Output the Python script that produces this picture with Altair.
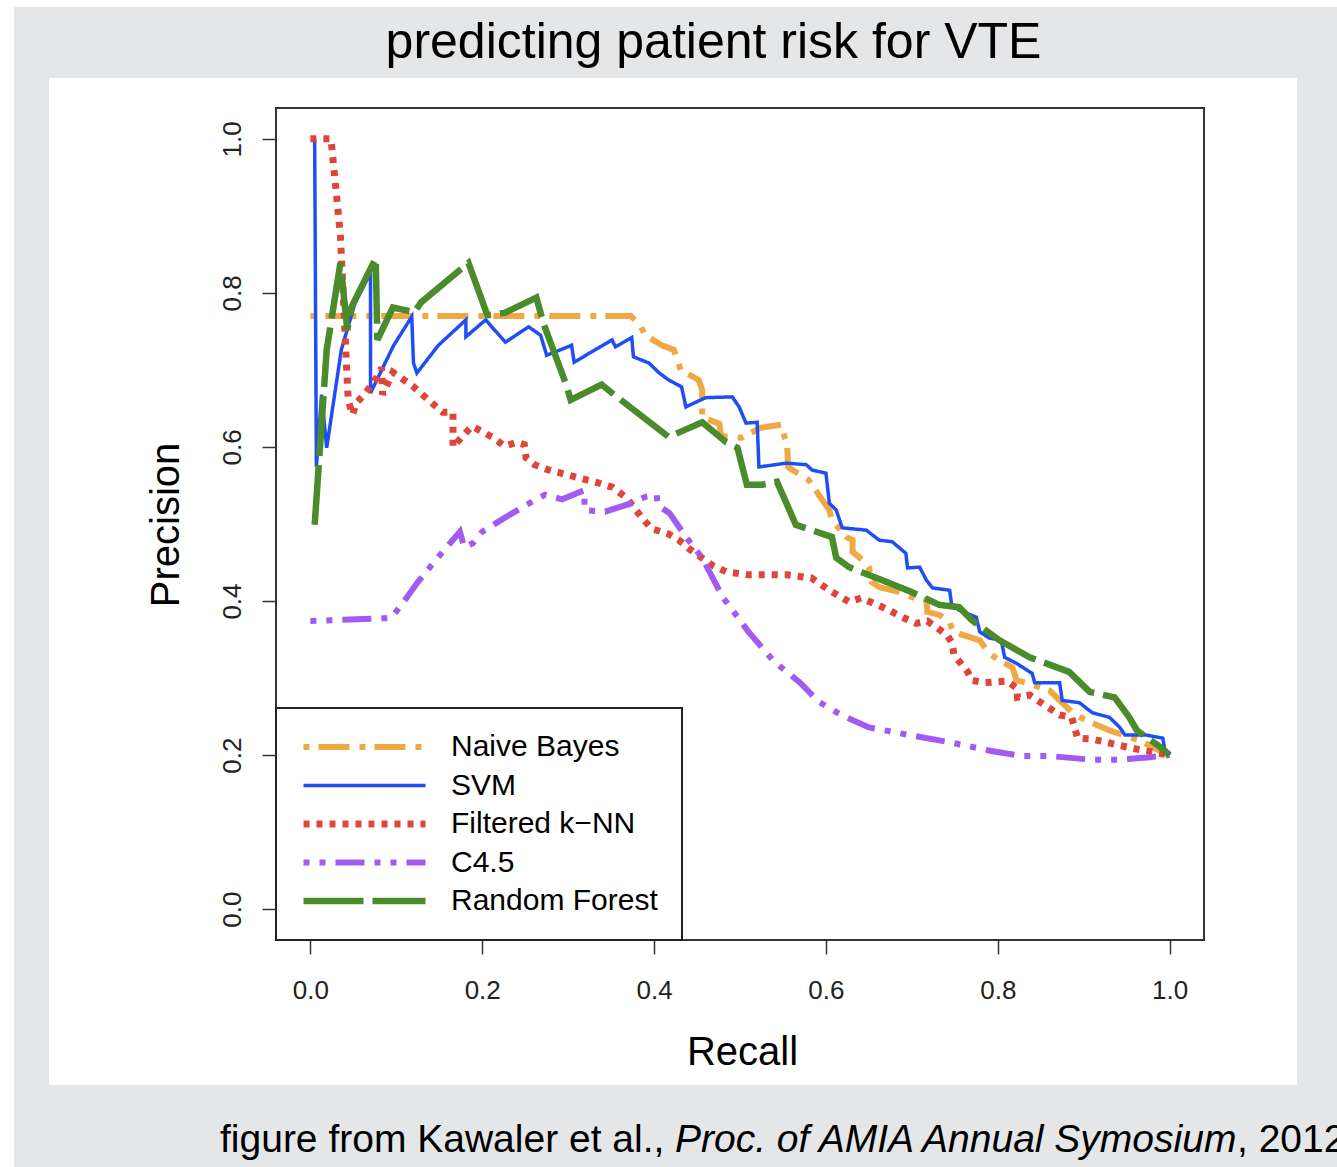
import altair as alt
import pandas as pd

# Precision-recall curves for five classifiers (recall, precision)
models = ["Naive Bayes", "SVM", "Filtered k\u2212NN", "C4.5", "Random Forest"]
colors = ["#f0a843", "#1f4ef5", "#e0453a", "#a35af2", "#4a8b2c"]
dashes = [[6, 9, 31, 10], [1, 0], [6, 7], [6, 10, 6, 10, 29, 10], [60, 9]]
widths = [6, 3.5, 7, 6, 6.5]

nb_points = [
    (0.0, 0.770), (0.373, 0.770), (0.382, 0.761), (0.390, 0.745), (0.409, 0.732),
    (0.423, 0.726), (0.431, 0.700), (0.452, 0.687), (0.456, 0.674), (0.456, 0.639),
    (0.476, 0.630), (0.478, 0.614), (0.502, 0.612), (0.524, 0.625), (0.549, 0.629),
    (0.552, 0.612), (0.555, 0.600), (0.556, 0.574), (0.580, 0.557), (0.604, 0.518),
    (0.607, 0.505), (0.624, 0.483), (0.631, 0.479), (0.631, 0.464), (0.647, 0.449),
    (0.650, 0.444), (0.653, 0.425), (0.662, 0.418), (0.685, 0.412), (0.700, 0.405),
    (0.717, 0.401), (0.718, 0.386), (0.732, 0.382), (0.744, 0.373), (0.747, 0.362),
    (0.759, 0.356), (0.779, 0.349), (0.790, 0.332), (0.802, 0.323), (0.817, 0.314),
    (0.822, 0.297), (0.833, 0.294), (0.860, 0.284), (0.875, 0.268), (0.887, 0.255),
    (0.903, 0.245), (0.930, 0.232), (0.965, 0.219), (0.988, 0.206), (1.0, 0.200),
]

svm_points = [
    (0.005, 1.000), (0.007, 0.574), (0.013, 0.668), (0.019, 0.599), (0.036, 0.726),
    (0.052, 0.787), (0.070, 0.826), (0.070, 0.670), (0.097, 0.732), (0.118, 0.769),
    (0.120, 0.709), (0.124, 0.696), (0.149, 0.732), (0.181, 0.765), (0.181, 0.743),
    (0.204, 0.765), (0.211, 0.756), (0.227, 0.736), (0.254, 0.756), (0.268, 0.745),
    (0.275, 0.719), (0.304, 0.732), (0.307, 0.710), (0.351, 0.739), (0.355, 0.730),
    (0.374, 0.742), (0.376, 0.717), (0.394, 0.709), (0.406, 0.696), (0.417, 0.687),
    (0.432, 0.678), (0.437, 0.652), (0.460, 0.664), (0.491, 0.665), (0.499, 0.652),
    (0.507, 0.631), (0.520, 0.632), (0.522, 0.574), (0.554, 0.579), (0.577, 0.577),
    (0.584, 0.570), (0.600, 0.566), (0.604, 0.527), (0.612, 0.518), (0.619, 0.495),
    (0.647, 0.492), (0.662, 0.479), (0.677, 0.477), (0.693, 0.462), (0.695, 0.443),
    (0.709, 0.444), (0.717, 0.427), (0.724, 0.417), (0.744, 0.414), (0.746, 0.397),
    (0.755, 0.388), (0.775, 0.379), (0.779, 0.360), (0.790, 0.352), (0.804, 0.349),
    (0.808, 0.327), (0.822, 0.319), (0.840, 0.306), (0.843, 0.294), (0.872, 0.294),
    (0.875, 0.271), (0.895, 0.268), (0.910, 0.255), (0.930, 0.249), (0.942, 0.236),
    (0.948, 0.226), (0.973, 0.226), (0.992, 0.222), (0.994, 0.209), (1.0, 0.200),
]

knn_points = [
    (0.0, 1.000), (0.024, 1.000), (0.035, 0.874), (0.044, 0.661), (0.049, 0.642),
    (0.054, 0.658), (0.063, 0.668), (0.078, 0.691), (0.083, 0.703), (0.084, 0.668),
    (0.096, 0.697), (0.119, 0.679), (0.154, 0.645), (0.166, 0.645), (0.166, 0.600),
    (0.177, 0.614), (0.188, 0.627), (0.213, 0.612), (0.226, 0.601), (0.240, 0.606),
    (0.249, 0.603), (0.251, 0.586), (0.261, 0.577), (0.275, 0.571), (0.305, 0.562),
    (0.336, 0.553), (0.351, 0.548), (0.368, 0.534), (0.386, 0.508), (0.397, 0.494),
    (0.417, 0.487), (0.429, 0.479), (0.443, 0.466), (0.467, 0.447), (0.484, 0.438),
    (0.510, 0.434), (0.555, 0.434), (0.583, 0.430), (0.604, 0.414), (0.627, 0.399),
    (0.641, 0.404), (0.666, 0.392), (0.691, 0.378), (0.705, 0.371), (0.718, 0.374),
    (0.741, 0.356), (0.747, 0.345), (0.749, 0.330), (0.765, 0.308), (0.770, 0.297),
    (0.784, 0.294), (0.811, 0.296), (0.822, 0.287), (0.823, 0.275), (0.837, 0.278),
    (0.872, 0.252), (0.886, 0.249), (0.893, 0.222), (0.909, 0.221), (0.956, 0.209),
    (1.0, 0.200),
]

c45_points = [
    (0.0, 0.374), (0.094, 0.378), (0.106, 0.395), (0.124, 0.423), (0.145, 0.452),
    (0.174, 0.490), (0.179, 0.470), (0.189, 0.475), (0.200, 0.490), (0.226, 0.508),
    (0.255, 0.527), (0.273, 0.538), (0.293, 0.532), (0.308, 0.539), (0.319, 0.544),
    (0.319, 0.518), (0.343, 0.516), (0.374, 0.527), (0.389, 0.535), (0.403, 0.538),
    (0.404, 0.525), (0.418, 0.514), (0.438, 0.482), (0.456, 0.456), (0.480, 0.405),
    (0.510, 0.360), (0.540, 0.321), (0.569, 0.295), (0.592, 0.269), (0.618, 0.252),
    (0.650, 0.236), (0.697, 0.226), (0.747, 0.216), (0.794, 0.205), (0.828, 0.199),
    (0.858, 0.199), (0.910, 0.194), (0.939, 0.194), (0.974, 0.197), (1.0, 0.200),
]

rf_points = [
    (0.005, 0.499), (0.019, 0.726), (0.035, 0.839), (0.043, 0.752), (0.048, 0.782),
    (0.076, 0.845), (0.078, 0.739), (0.096, 0.781), (0.121, 0.775), (0.129, 0.788),
    (0.184, 0.839), (0.206, 0.771), (0.226, 0.774), (0.263, 0.794), (0.272, 0.758),
    (0.297, 0.683), (0.303, 0.661), (0.339, 0.681), (0.351, 0.670), (0.417, 0.613),
    (0.456, 0.632), (0.484, 0.606), (0.497, 0.599), (0.508, 0.551), (0.526, 0.551),
    (0.543, 0.555), (0.565, 0.499), (0.607, 0.483), (0.612, 0.456), (0.627, 0.444),
    (0.670, 0.425), (0.699, 0.412), (0.732, 0.395), (0.755, 0.392), (0.770, 0.375),
    (0.802, 0.349), (0.837, 0.327), (0.883, 0.308), (0.907, 0.282), (0.936, 0.275),
    (0.953, 0.249), (0.962, 0.232), (0.986, 0.213), (1.0, 0.200),
]

tick_values = [0.0, 0.2, 0.4, 0.6, 0.8, 1.0]

FONT = "Liberation Sans"
W, H = 928, 832

rows = []
for name, pts in zip(models, [nb_points, svm_points, knn_points, c45_points, rf_points]):
    for i, (r, p) in enumerate(pts):
        rows.append({"model": name, "recall": r, "precision": p, "idx": i})
df = pd.DataFrame(rows)
one = pd.DataFrame({"k": [0]})

legend = alt.Legend(
    title=None, orient="none", legendX=0, legendY=600,
    padding=24, rowPadding=8.5, clipHeight=30,
    labelFont=FONT, labelFontSize=30, labelColor="black",
    labelOffset=22, labelLimit=400,
    symbolSize=14884, symbolType="stroke",
    strokeColor="#222", fillColor="white",
)

x_enc = alt.X(
    "recall:Q",
    scale=alt.Scale(domain=[-0.04, 1.04], nice=False, zero=False),
    axis=alt.Axis(
        values=tick_values, format=".1f", title="Recall", grid=False, domain=False,
        tickSize=14, tickWidth=1.5, tickColor="#333",
        labelFont=FONT, labelFontSize=26, labelColor="#222",
        labelBaseline="alphabetic", labelPadding=44, labelFlush=False, labelOverlap=False,
        titleFont=FONT, titleFontSize=40, titleFontWeight="normal", titleColor="black",
        titleBaseline="alphabetic", titleX=466, titleY=124, zindex=1,
    ),
)
y_enc = alt.Y(
    "precision:Q",
    scale=alt.Scale(domain=[-0.04, 1.04], nice=False, zero=False),
    axis=alt.Axis(
        values=tick_values, format=".1f", title="Precision", grid=False, domain=False,
        tickSize=14, tickWidth=1.5, tickColor="#333",
        labelFont=FONT, labelFontSize=26, labelColor="#222",
        labelAngle=270, labelAlign="center", labelBaseline="alphabetic",
        labelPadding=22, labelFlush=False, labelOverlap=False,
        titleFont=FONT, titleFontSize=40, titleFontWeight="normal", titleColor="black",
        titleAngle=270, titleAlign="center", titleBaseline="alphabetic",
        titleX=-98, titleY=416.5, zindex=1,
    ),
)

base = alt.Chart(df)
curves = []
for name in models:
    curves.append(
        base.transform_filter(alt.datum.model == name)
        .mark_line(strokeCap="butt")
        .encode(
            x=x_enc,
            y=y_enc,
            order=alt.Order("idx:Q"),
            color=alt.Color("model:N", scale=alt.Scale(domain=models, range=colors), legend=legend),
            strokeDash=alt.StrokeDash("model:N", scale=alt.Scale(domain=models, range=dashes), legend=legend),
            strokeWidth=alt.StrokeWidth("model:N", scale=alt.Scale(type="ordinal", domain=models, range=widths), legend=legend),
        )
    )

# page furniture: white figure panel on grey slide, white edges
panel = alt.Chart(one).mark_rect(fill="white").encode(
    x=alt.value(-227), x2=alt.value(1021), y=alt.value(-30), y2=alt.value(977)
)
edge_top = alt.Chart(one).mark_rect(fill="white").encode(
    x=alt.value(-276), x2=alt.value(1061), y=alt.value(-108), y2=alt.value(-101)
)
edge_left = alt.Chart(one).mark_rect(fill="white").encode(
    x=alt.value(-276), x2=alt.value(-262), y=alt.value(-108), y2=alt.value(1059)
)
frame = alt.Chart(one).mark_rect(filled=False, stroke="#333", strokeWidth=2).encode(
    x=alt.value(0), x2=alt.value(W), y=alt.value(0), y2=alt.value(H)
)

title = alt.Chart(one).mark_text(
    text="predicting patient risk for VTE", font=FONT, fontSize=50,
    align="center", baseline="alphabetic", color="black",
).encode(x=alt.value(437.5), y=alt.value(-50))

cap_a = alt.Chart(one).mark_text(
    text="figure from Kawaler et al., ", font=FONT, fontSize=39,
    align="left", baseline="alphabetic", color="black",
).encode(x=alt.value(-56), y=alt.value(1044))
cap_b = alt.Chart(one).mark_text(
    text="Proc. of AMIA Annual Symosium", font=FONT, fontSize=39, fontStyle="italic",
    align="left", baseline="alphabetic", color="black",
).encode(x=alt.value(399), y=alt.value(1044))
cap_c = alt.Chart(one).mark_text(
    text=", 2012", font=FONT, fontSize=39,
    align="left", baseline="alphabetic", color="black",
).encode(x=alt.value(961), y=alt.value(1044))

chart = (
    alt.layer(edge_top, edge_left, panel, *curves, frame, title, cap_a, cap_b, cap_c)
    .properties(
        width=W, height=H, autosize="none", background="#e5e6e8",
        padding={"left": 276, "top": 108, "right": 133, "bottom": 227},
    )
    .configure_view(strokeWidth=0)
    .configure_legend(strokeWidth=2)
)

chart.save("out.html", embed_options={"renderer": "svg", "actions": False})
